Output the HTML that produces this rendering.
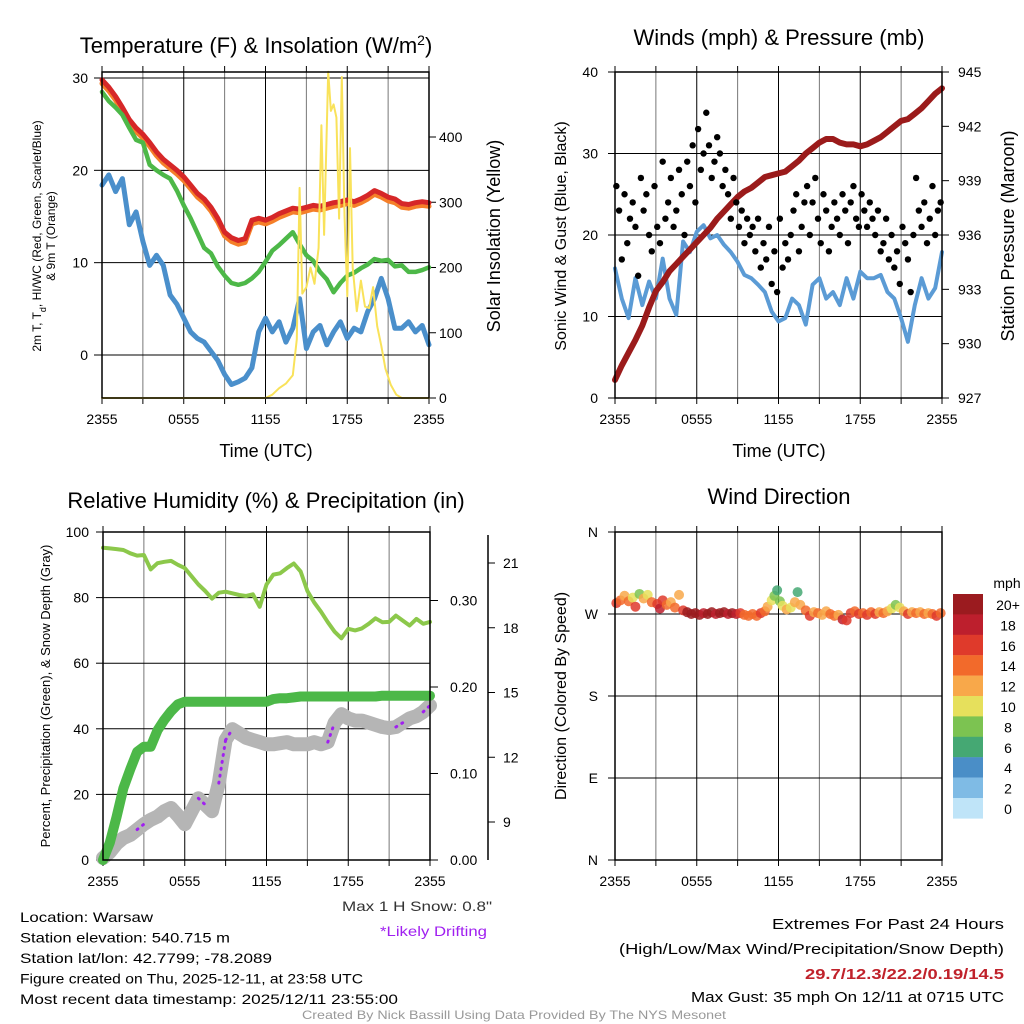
<!DOCTYPE html>
<html><head><meta charset="utf-8"><style>
html,body{margin:0;padding:0;background:#fff;}
svg{display:block;font-family:"Liberation Sans",sans-serif;}
</style></head><body>
<svg id="chart" width="1024" height="1024" viewBox="0 0 1024 1024" xmlns="http://www.w3.org/2000/svg"></svg>
<script>
// ---------- DATA ----------
const hours = [0,0.5,1,1.5,2,2.5,3,3.5,4,4.5,5,5.5,6,6.5,7,7.5,8,8.5,9,9.5,10,10.5,11,11.5,12,12.5,13,13.5,14,14.5,15,15.5,16,16.5,17,17.5,18,18.5,19,19.5,20,20.5,21,21.5,22,22.5,23,23.5,24];
const xTickLabels = ["2355","0555","1155","1755","2355"];
const tempRed = [29.8,29.0,28.0,26.8,25.5,24.6,23.9,23.0,22.0,21.2,20.6,20.0,19.3,18.4,17.5,16.9,16.0,14.8,13.3,12.7,12.4,12.6,14.6,14.8,14.6,14.9,15.3,15.6,15.9,15.8,16.0,16.2,16.1,16.3,16.5,16.6,16.8,16.6,16.9,17.3,17.8,17.5,17.1,16.9,16.4,16.3,16.5,16.6,16.5];
const tempOrange = [29.4,28.6,27.6,26.4,25.1,24.2,23.5,22.6,21.6,20.8,20.2,19.6,18.9,18.0,17.1,16.5,15.6,14.4,12.9,12.3,12.0,12.2,14.2,14.4,14.2,14.5,14.9,15.2,15.5,15.4,15.6,15.8,15.7,15.9,16.1,16.2,16.4,16.2,16.5,16.9,17.4,17.1,16.7,16.5,16.0,15.9,16.1,16.2,16.1];
const dewGreen = [28.5,27.5,26.8,26.0,24.6,23.3,23.0,20.6,20.0,19.5,19.1,17.8,16.2,14.8,13.2,11.6,11.0,9.6,8.6,7.8,7.6,7.8,8.3,9.0,10.1,11.3,11.9,12.6,13.3,12.0,10.8,10.2,9.0,8.2,6.8,7.8,8.6,8.9,9.4,9.8,10.4,10.2,10.3,9.6,9.7,9.0,9.0,9.2,9.5];
const windChill = [18.4,19.5,17.7,19.1,14.1,15.5,12.3,9.7,10.8,9.7,6.5,5.5,4.0,2.5,1.8,1.4,0.4,-0.6,-2.1,-3.2,-2.9,-2.5,-1.4,2.5,4.0,2.5,3.6,1.4,2.9,6.1,0.7,2.5,3.2,1.1,2.5,3.6,1.8,2.9,2.5,4.7,6.1,8.3,6.1,2.9,2.9,3.6,2.5,3.2,1.1];
const tempTicks = [0,10,20,30];
const solarHours = [0,12,12.5,13,13.5,14,14.3,14.5,14.7,15,15.3,15.6,15.9,16.1,16.3,16.6,16.8,17.0,17.2,17.4,17.6,17.8,18.0,18.2,18.4,18.7,19.0,19.3,19.6,19.9,20.2,20.5,20.8,21.2,21.6,22,24];
const solarVals = [0,0,5,15,22,35,90,322,160,170,200,175,230,418,250,500,440,450,430,275,492,280,156,383,200,133,180,140,138,170,110,80,45,20,5,0,0];
const solarTicks = [0,100,200,300,400];

const windSpeed = [15.9,12.2,9.8,14.7,11.4,14.3,12.2,17.1,12.2,10.2,19.2,17.9,20.4,21.2,19.6,20.0,18.8,17.9,16.7,15.1,14.7,13.9,13.0,10.6,9.4,9.8,12.2,11.4,9.0,13.9,14.7,12.2,13.0,11.4,14.7,12.2,15.5,14.7,14.7,15.1,13.0,12.2,9.8,6.9,11.4,14.7,12.2,13.5,17.9];
const pressure = [928.0,928.8,929.5,930.2,931.0,932.0,932.9,933.4,934.0,934.4,934.8,935.2,935.6,936.0,936.4,936.9,937.3,937.7,938.1,938.4,938.6,938.9,939.2,939.3,939.4,939.5,939.8,940.1,940.5,940.8,941.1,941.3,941.3,941.1,941.0,941.0,940.9,941.0,941.2,941.4,941.7,942.0,942.3,942.4,942.7,943.0,943.4,943.8,944.1];
const gustHours = [0.1,0.3,0.5,0.7,0.9,1.1,1.3,1.5,1.7,1.9,2.1,2.3,2.5,2.7,2.9,3.1,3.3,3.5,3.7,3.9,4.1,4.3,4.5,4.7,4.9,5.1,5.3,5.5,5.7,5.9,6.1,6.3,6.5,6.7,6.9,7.1,7.3,7.5,7.7,7.9,8.1,8.3,8.5,8.7,8.9,9.1,9.3,9.5,9.7,9.9,10.1,10.3,10.5,10.7,10.9,11.1,11.3,11.5,11.7,11.9,12.1,12.3,12.5,12.7,12.9,13.1,13.3,13.5,13.7,13.9,14.1,14.3,14.5,14.7,14.9,15.1,15.3,15.5,15.7,15.9,16.1,16.3,16.5,16.7,16.9,17.1,17.3,17.5,17.7,17.9,18.1,18.3,18.5,18.7,18.9,19.1,19.3,19.5,19.7,19.9,20.1,20.3,20.5,20.7,20.9,21.1,21.3,21.5,21.7,21.9,22.1,22.3,22.5,22.7,22.9,23.1,23.3,23.5,23.7,23.9];
const gustVals = [26,23,17,25,19,22,24,21,15,27,23,25,20,18,26,21,19,29,22,24,27,21,23,28,25,20,29,26,31,24,33,28,30,35,31,27,29,32,30,26,28,25,22,27,24,21,23,19,22,20,21,18,22,16,19,17,21,14,18,13,22,16,19,17,20,23,25,18,21,24,26,20,24,27,22,19,25,23,18,21,24,22,20,25,23,19,24,26,22,21,25,23,21,24,22,20,23,18,19,22,17,20,16,18,14,21,19,17,13,20,27,23,21,24,19,22,26,20,23,24];
const windTicks = [0,10,20,30,40];
const pressTicks = [927,930,933,936,939,942,945];

const rh = [95.2,95.0,94.8,94.5,93.5,92.8,93.0,88.6,90.5,90.9,91.2,90.0,89.0,86.5,84.0,82.0,79.7,81.5,81.8,81.3,80.8,80.5,81.0,77.2,84.0,87.0,87.4,89.0,90.4,88.0,82.0,78.5,75.7,72.5,69.6,67.6,70.5,70.0,70.6,72.0,73.7,72.5,72.6,74.5,73.0,71.5,73.5,72.0,72.6];
const precip = [0.0,0.02,0.05,0.083,0.105,0.125,0.131,0.131,0.15,0.162,0.172,0.18,0.183,0.183,0.183,0.183,0.183,0.183,0.183,0.183,0.183,0.183,0.183,0.183,0.183,0.186,0.187,0.187,0.188,0.189,0.189,0.189,0.189,0.189,0.189,0.189,0.189,0.189,0.189,0.189,0.189,0.19,0.19,0.19,0.19,0.19,0.19,0.19,0.19];
const snow = [7.33,7.6,8.0,8.26,8.4,8.65,8.9,9.1,9.25,9.5,9.65,9.3,8.9,9.5,10.1,9.8,9.5,10.8,12.8,13.3,13.1,12.9,12.8,12.7,12.6,12.6,12.65,12.7,12.6,12.6,12.6,12.7,12.6,12.7,13.6,14.0,13.8,13.7,13.7,13.6,13.5,13.4,13.35,13.4,13.6,13.8,13.9,14.1,14.4];
const drifting = [0,0,0,0,0,1,1,0,0,0,0,0,0,0,1,1,0,1,1,1,0,0,0,0,0,0,0,0,0,0,0,0,0,1,1,0,0,0,0,0,0,0,0,1,1,0,0,1,1];
const rhTicks = [0,20,40,60,80,100];
const precipTicks = ["0.00","0.10","0.20","0.30"];
const snowTicks = [9,12,15,18,21];

const dirHours = [0.1,0.4,0.7,1.0,1.3,1.5,1.8,2.1,2.4,2.7,3.1,3.3,3.5,3.8,4.1,4.4,4.7,5.0,5.3,5.6,5.9,6.2,6.5,6.8,7.1,7.4,7.7,8.0,8.3,8.6,8.9,9.2,9.5,9.8,10.1,10.4,10.7,11.0,11.2,11.5,11.7,11.9,12.1,12.3,12.6,12.9,13.2,13.4,13.6,14.0,14.3,14.6,14.9,15.2,15.5,15.8,16.1,16.4,16.7,17.0,17.3,17.6,17.9,18.2,18.5,18.8,19.1,19.4,19.7,20.0,20.3,20.6,20.9,21.2,21.5,21.8,22.1,22.4,22.7,23.0,23.3,23.6,23.9];
const dirVals = [282,285,290,284,288,278,292,287,291,283,281,276,285,280,283,277,291,274,272,270,271,269,271,270,272,270,271,272,270,271,270,271,269,268,270,268,271,273,278,285,290,296,284,279,275,277,283,294,280,274,268,272,271,269,273,270,268,269,264,263,271,273,270,271,269,272,270,272,271,273,276,280,277,273,270,272,271,272,270,271,270,268,271];
const dirSpeeds = [16,14,12,15,10,17,9,13,10,15,17,18,16,14,12,15,12,17,20,21,20,21,19,20,21,19,20,21,19,20,18,17,15,14,15,14,16,15,12,11,8,6,9,10,12,11,13,6,12,14,16,13,14,12,13,15,14,12,18,17,16,14,17,15,16,14,16,13,15,12,10,8,10,12,16,13,14,12,14,13,15,16,14];
const dirTicks = ["N","E","S","W","N"];
const cbLabels = ["20+","18","16","14","12","10","8","6","4","2","0"];
const cbColors = ["#9b1b1f","#bd1f2d","#df3a2b","#f26a2b","#f8a84a","#e6e05c","#7cc351","#45a873","#4a8ec7","#7fbbe5","#bfe4f8"];

// ---------- HELPERS ----------
const NS = "http://www.w3.org/2000/svg";
const svg = document.getElementById("chart");
function mk(tag, attrs, parent) {
  const e = document.createElementNS(NS, tag);
  for (const k in attrs) e.setAttribute(k, attrs[k]);
  (parent || svg).appendChild(e);
  return e;
}
function txt(s, x, y, size, anchor, parent, extra) {
  const t = mk("text", Object.assign({x: x, y: y, "font-size": size, "text-anchor": anchor || "middle", fill: "#000"}, extra || {}), parent);
  t.textContent = s;
  return t;
}
function lin(d0, d1, r0, r1) { return v => r0 + (v - d0) * (r1 - r0) / (d1 - d0); }
function poly(xs, ys, fx, fy) { return xs.map((h, i) => fx(h).toFixed(1) + "," + fy(ys[i]).toFixed(1)).join(" "); }

function frame(name, L, T, R, B, fx) {
  const g = mk("g", {});
  
  
  for (let h = 3; h < 24; h += 3) {
    const l = mk("line", {x1: fx(h), x2: fx(h), y1: T, y2: B, stroke: h % 6 === 0 ? "#000" : "#777", "stroke-width": 1}, g);
    
    
  }
  for (let h = 0; h <= 24; h += 3) {
    mk("line", {x1: fx(h), x2: fx(h), y1: B, y2: B + 6, stroke: "#000", "stroke-width": 1}, g);
    mk("line", {x1: fx(h), x2: fx(h), y1: T, y2: T - 6, stroke: "#000", "stroke-width": 1}, g);
  }
  xTickLabels.forEach((s, i) => {
    const t = txt(s, fx(i * 6), B + 26, 14, "middle", g);
    
    
  });
  return g;
}
function border(L, T, R, B) {
  const r = mk("rect", {x: L, y: T, width: R - L, height: B - T, fill: "none", stroke: "#000", "stroke-width": 1.5});
  
  
}
function hgrid(g, L, R, y) {
  const l = mk("line", {x1: L, x2: R, y1: y, y2: y, stroke: "#000", "stroke-width": 1}, g);
  
  
}
function line(name, xs, ys, fx, fy, color, w, extra) {
  const p = mk("polyline", Object.assign({points: poly(xs, ys, fx, fy), fill: "none", stroke: color, "stroke-width": w, "stroke-linejoin": "round", "stroke-linecap": "round"}, extra || {}));
  
  
  return p;
}

// ---------- PANEL 1: TEMPERATURE ----------
(function () {
  const L = 102, R = 429, T = 72, B = 398;
  const fx = lin(0, 24, L, R), fy = lin(0, 30, 355, 78), fs = lin(0, 400, 398, 137);
  const g = frame("temperature-panel", L, T, R, B, fx);
  tempTicks.forEach(v => {
    hgrid(g, L, R, fy(v));
    mk("line", {x1: L - 8, x2: L, y1: fy(v), y2: fy(v), stroke: "#000"}, g);
    const t = txt(String(v), L - 14, fy(v) + 5, 14, "end", g);
    
    
  });
  solarTicks.forEach(v => {
    mk("line", {x1: R, x2: R + 7, y1: fs(v), y2: fs(v), stroke: "#000"}, g);
    const t = txt(String(v), R + 10, fs(v) + 5, 14, "start", g);
    
    
  });
  line("temp-9m-orange-line", hours, tempOrange, fx, fy, "#f57f29", 5);
  line("temp-2m-red-line", hours, tempRed, fx, fy, "#d62728", 5);
  line("dewpoint-green-line", hours, dewGreen, fx, fy, "#4db848", 4.5);
  line("wind-chill-blue-line", hours, windChill, fx, fy, "#4a8fcb", 5);
  line("solar-insolation-line", solarHours, solarVals, fx, fs, "#f9e25a", 2);
  border(L, T, R, B);
  let t = txt("Temperature (F) & Insolation (W/m", 256, 53, 22, "middle");
  
  
  const ts = mk("tspan", {"baseline-shift": "super", "font-size": 14}, t); ts.textContent = "2";
  const ts2 = mk("tspan", {}, t); ts2.textContent = ")";
  t = txt("Time (UTC)", 266, 457, 18);
  
  
  t = txt("", 0, 0, 12, "middle", null, {transform: "translate(41,236) rotate(-90)"});
  
  
  const a = mk("tspan", {}, t); a.textContent = "2m T, T";
  const b = mk("tspan", {"baseline-shift": "sub", "font-size": 9}, t); b.textContent = "d";
  const c = mk("tspan", {}, t); c.textContent = ", HI/WC (Red, Green, Scarlet/Blue)";
  t = txt("& 9m T (Orange)", 0, 0, 12, "middle", null, {transform: "translate(55,236) rotate(-90)"});
  
  
  t = txt("Solar Insolation (Yellow)", 0, 0, 18, "middle", null, {transform: "translate(500,236) rotate(-90)"});
  
  
})();

// ---------- PANEL 2: WINDS ----------
(function () {
  const L = 615, R = 942, T = 72, B = 398;
  const fx = lin(0, 24, L, R), fy = lin(0, 40, 398, 72), fp = lin(927, 945, 398, 72);
  const g = frame("winds-panel", L, T, R, B, fx);
  windTicks.forEach(v => {
    if (v > 0 && v < 40) hgrid(g, L, R, fy(v));
    mk("line", {x1: L - 7, x2: L, y1: fy(v), y2: fy(v), stroke: "#000"}, g);
    const t = txt(String(v), L - 17, fy(v) + 5, 14, "end", g);
    
    
  });
  pressTicks.forEach(v => {
    mk("line", {x1: R, x2: R + 7, y1: fp(v), y2: fp(v), stroke: "#000"}, g);
    const t = txt(String(v), R + 16, fp(v) + 5, 14, "start", g);
    
    
  });
  line("sonic-wind-line", hours, windSpeed, fx, fy, "#5b9bd5", 4);
  line("pressure-line", hours, pressure, fx, fp, "#9b1b1b", 6);
  gustHours.forEach((h, i) => {
    const c = mk("circle", {cx: fx(h), cy: fy(gustVals[i]), r: 3.2, fill: "#000"});
    
    
  });
  border(L, T, R, B);
  let t = txt("Winds (mph) & Pressure (mb)", 779, 45, 22);
  
  
  t = txt("Time (UTC)", 779, 457, 18);
  
  
  t = txt("Sonic Wind & Gust (Blue, Black)", 0, 0, 16, "middle", null, {transform: "translate(566,236) rotate(-90)"});
  
  
  t = txt("Station Pressure (Maroon)", 0, 0, 18, "middle", null, {transform: "translate(1014,236) rotate(-90)"});
  
  
})();

// ---------- PANEL 3: RH & PRECIP ----------
(function () {
  const L = 103, R = 430, T = 532, B = 860;
  const fx = lin(0, 24, L, R), fy = lin(0, 100, 860, 532), fpr = lin(0, 0.1, 860, 773.5), fsn = lin(9, 21, 822, 563);
  const g = frame("humidity-panel", L, T, R, B, fx);
  rhTicks.forEach(v => {
    if (v > 0 && v < 100) hgrid(g, L, R, fy(v));
    mk("line", {x1: L - 7, x2: L, y1: fy(v), y2: fy(v), stroke: "#000"}, g);
    const t = txt(String(v), L - 14, fy(v) + 5, 14, "end", g);
    
    
  });
  precipTicks.forEach(s => {
    const y = fpr(parseFloat(s));
    mk("line", {x1: R, x2: R + 8, y1: y, y2: y, stroke: "#000"}, g);
    const t = txt(s, R + 20, y + 5, 14, "start", g);
    
    
  });
  const sx = mk("line", {x1: 488, x2: 488, y1: 535, y2: 860, stroke: "#000", "stroke-width": 1.5}, g);
  
  
  snowTicks.forEach(v => {
    mk("line", {x1: 488, x2: 495, y1: fsn(v), y2: fsn(v), stroke: "#000"}, g);
    const t = txt(String(v), 503, fsn(v) + 5, 14, "start", g);
    
    
  });
  line("rh-line", hours, rh, fx, fy, "#8cc84b", 4);
  line("snow-depth-line", hours, snow, fx, fsn, "#b5b5b5", 14);
  line("precip-line", hours, precip, fx, fpr, "#4cb848", 10);
  for (let i = 0; i < hours.length - 1; i++) {
    if (drifting[i] && drifting[i + 1]) {
      line("drifting-segment", [hours[i], hours[i + 1]], [snow[i], snow[i + 1]], fx, fsn, "#a020f0", 3, {"stroke-dasharray": "1 6"});
    }
  }
  border(L, T, R, B);
  let t = txt("Relative Humidity (%) & Precipitation (in)", 266, 508, 22);
  
  
  t = txt("Percent, Precipitation (Green), & Snow Depth (Gray)", 0, 0, 13, "middle", null, {transform: "translate(50,696) rotate(-90)"});
  
  
})();

// ---------- PANEL 4: WIND DIRECTION ----------
(function () {
  const L = 615, R = 942, T = 532, B = 860;
  const fx = lin(0, 24, L, R), fy = lin(0, 360, 860, 532);
  const g = frame("wind-direction-panel", L, T, R, B, fx);
  dirTicks.forEach((s, i) => {
    const y = fy(i * 90);
    if (i > 0 && i < 4) hgrid(g, L, R, y);
    mk("line", {x1: L - 7, x2: L, y1: y, y2: y, stroke: "#000"}, g);
    const t = txt(s, L - 17, y + 5, 14, "end", g);
    
    
  });
  function colorFor(sp) {
    const idx = Math.max(0, Math.min(10, 10 - Math.floor(sp / 2)));
    return cbColors[idx];
  }
  dirHours.forEach((h, i) => {
    const c = mk("circle", {cx: fx(h), cy: fy(dirVals[i]), r: 5, fill: colorFor(dirSpeeds[i]), "fill-opacity": 0.85});
    
    
  });
  border(L, T, R, B);
  let t = txt("Wind Direction", 779, 504, 22);
  
  
  t = txt("Direction (Colored By Speed)", 0, 0, 16, "middle", null, {transform: "translate(566,696) rotate(-90)"});
  
  
  const cb = mk("g", {});
  
  
  t = txt("mph", 1007, 588, 14, "middle", cb);
  
  
  cbColors.forEach((col, i) => {
    const r = mk("rect", {x: 953, y: 594 + i * 20.4, width: 30, height: 20.6, fill: col}, cb);
    
    
    const l = txt(cbLabels[i], 1008, 594 + i * 20.4 + 16, 14, "middle", cb);
    
    
  });
})();

// ---------- FOOTER TEXT ----------
(function () {
  const left = ["Location: Warsaw", "Station elevation: 540.715 m", "Station lat/lon: 42.7799; -78.2089", "Figure created on Thu, 2025-12-11, at 23:58 UTC", "Most recent data timestamp: 2025/12/11 23:55:00"];
  const lw = [133, 210, 252, 343, 378];
  left.forEach((s, i) => {
    const t = txt(s, 20, 922 + i * 20.5, 14, "start", null, {textLength: lw[i], lengthAdjust: "spacingAndGlyphs"});
    
    
  });
  let t = txt("Max 1 H Snow: 0.8\"", 492, 911, 14, "end", null, {fill: "#333", textLength: 150, lengthAdjust: "spacingAndGlyphs"});
  
  
  t = txt("*Likely Drifting", 487, 936, 14, "end", null, {fill: "#a020f0", textLength: 107, lengthAdjust: "spacingAndGlyphs"});
  
  
  t = txt("Extremes For Past 24 Hours", 1004, 929, 15, "end", null, {textLength: 232, lengthAdjust: "spacingAndGlyphs"});
  
  
  t = txt("(High/Low/Max Wind/Precipitation/Snow Depth)", 1004, 954, 15, "end", null, {textLength: 385, lengthAdjust: "spacingAndGlyphs"});
  
  
  t = txt("29.7/12.3/22.2/0.19/14.5", 1004, 979, 15, "end", null, {fill: "#c0222b", "font-weight": "bold", textLength: 199, lengthAdjust: "spacingAndGlyphs"});
  
  
  t = txt("Max Gust: 35 mph On 12/11 at 0715 UTC", 1004, 1002, 15, "end", null, {textLength: 313, lengthAdjust: "spacingAndGlyphs"});
  
  
  t = txt("Created By Nick Bassill Using Data Provided By The NYS Mesonet", 514, 1019, 12, "middle", null, {fill: "#999", textLength: 424, lengthAdjust: "spacingAndGlyphs"});
  
  
})();
</script>
</body></html>
